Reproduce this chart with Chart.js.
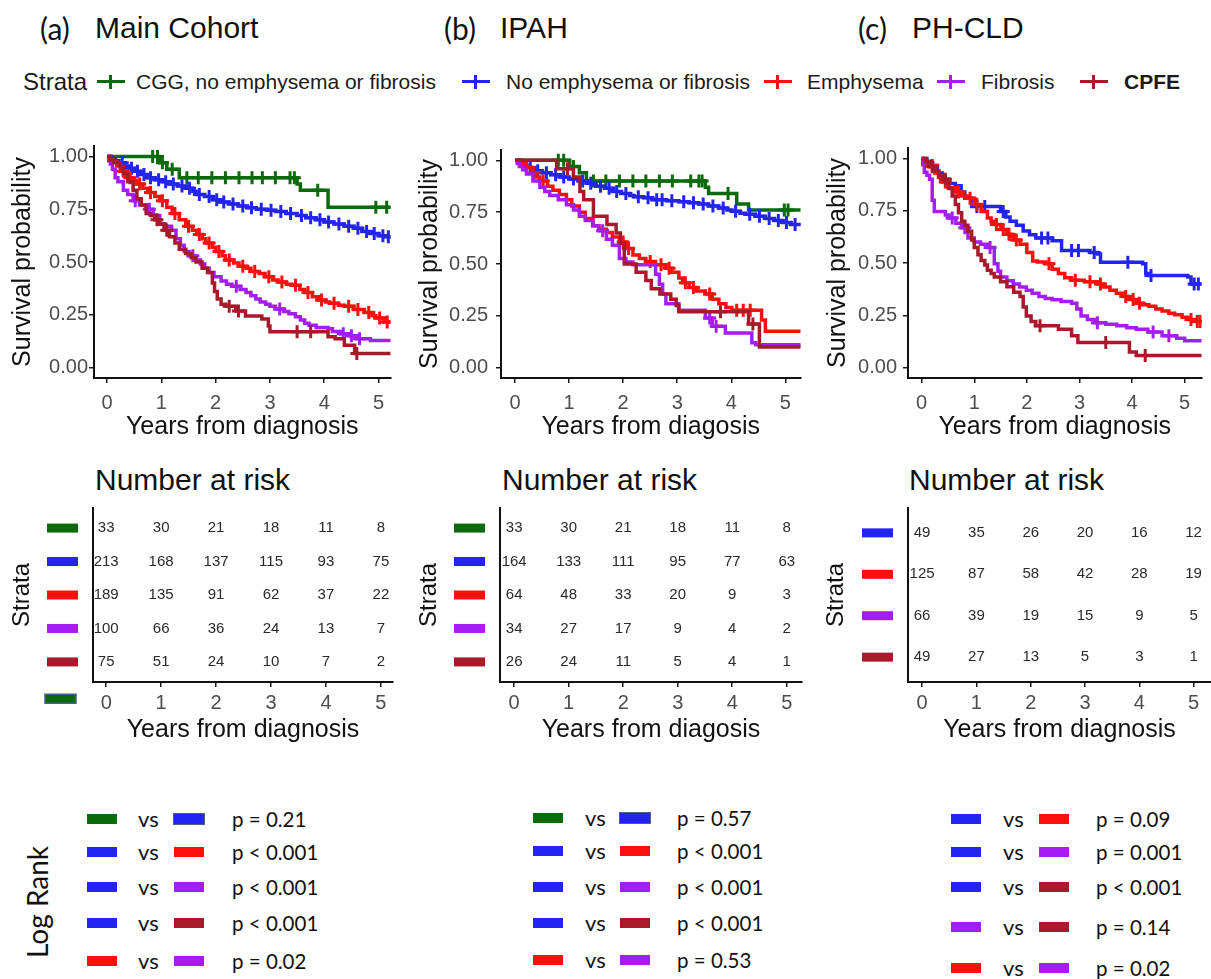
<!DOCTYPE html>
<html>
<head>
<meta charset="utf-8">
<title>Survival by CT strata</title>
<script src="https://cdn.jsdelivr.net/npm/chart.js@4.4.1/dist/chart.umd.min.js"></script>
<style>
  body { margin: 0; background: #fff; }
  #fig { position: relative; width: 1211px; height: 979px; overflow: hidden; background: #fff;
         font-family: 'Liberation Sans', Arial, sans-serif; color: #111; }
  .abs { position: absolute; white-space: nowrap; }
  .tag { font-family: Lato, 'Open Sans', sans-serif; font-size: 30px; line-height: 36px; top: 10px; }
  .name { font-size: 30px; line-height: 36px; top: 10px; }
  .risk-title { font-size: 30px; line-height: 36px; top: 462px; }
  .leg { font-size: 21px; line-height: 28px; top: 68px; color: #1a1a1a; }
  .key { position: absolute; top: 68px; width: 28px; height: 28px; }
  .key::before { content: ''; position: absolute; left: 0; right: 0; top: 12px; height: 3px; background: var(--c); }
  .key::after { content: ''; position: absolute; left: 12px; width: 3px; top: 7px; height: 14px; background: var(--c); }
  .lr { font-family: Lato, 'Open Sans', sans-serif; font-size: 22px; color: #111; }
  .lr-row { position: absolute; width: 400px; height: 28px; line-height: 28px; white-space: nowrap; }
  .lr-row span { white-space: nowrap; }
  .lr-row .pv { font-size: 20.5px; }
  .sw { position: absolute; top: 9px; width: 30px; height: 10px; }
  .rot { position: absolute; transform: translate(-50%, -50%) rotate(-90deg); white-space: nowrap; }
</style>
</head>
<body>
<div id="fig">
  <div class="abs tag" style="left:40px">(a)</div>
  <div class="abs name" style="left:95px">Main Cohort</div>
  <div class="abs tag" style="left:444px">(b)</div>
  <div class="abs name" style="left:500px">IPAH</div>
  <div class="abs tag" style="left:858px">(c)</div>
  <div class="abs name" style="left:912px">PH-CLD</div>

  <div class="abs leg" style="left:23px;font-size:24px">Strata</div>
  <div class="key" style="left:97px;--c:#0b6a0b"></div>
  <div class="abs leg" style="left:136px">CGG, no emphysema or fibrosis</div>
  <div class="key" style="left:462px;--c:#2424f2"></div>
  <div class="abs leg" style="left:506px">No emphysema or fibrosis</div>
  <div class="key" style="left:764px;--c:#fa0f0f"></div>
  <div class="abs leg" style="left:807px">Emphysema</div>
  <div class="key" style="left:937px;--c:#a41ef0"></div>
  <div class="abs leg" style="left:981px">Fibrosis</div>
  <div class="key" style="left:1080px;--c:#a61a2b"></div>
  <div class="abs leg" style="left:1124px;font-weight:bold">CPFE</div>

  <div class="abs" style="left:0;top:130px"><canvas id="kmMain" width="400" height="320"></canvas></div>
  <div class="abs" style="left:400px;top:130px"><canvas id="kmIpah" width="410" height="320"></canvas></div>
  <div class="abs" style="left:810px;top:130px"><canvas id="kmCld" width="401" height="320"></canvas></div>

  <div class="abs risk-title" style="left:95px">Number at risk</div>
  <div class="abs risk-title" style="left:502px">Number at risk</div>
  <div class="abs risk-title" style="left:909px">Number at risk</div>

  <div class="abs" style="left:0;top:500px"><canvas id="riskMain" width="400" height="270"></canvas></div>
  <div class="abs" style="left:400px;top:500px"><canvas id="riskIpah" width="410" height="270"></canvas></div>
  <div class="abs" style="left:810px;top:500px"><canvas id="riskCld" width="401" height="270"></canvas></div>

  <div class="rot lr" style="left:37px;top:902px;font-size:28px">Log Rank</div>
  <div id="lrMain"></div>
  <div id="lrIpah"></div>
  <div id="lrCld"></div>
</div>

<script>
const colors = {
  cgg: '#0b6a0b',
  none: '#2424f2',
  emph: '#fa0f0f',
  fib: '#a41ef0',
  cpfe: '#a61a2b'
};

const yearTicks = [0, 1, 2, 3, 4, 5];
const survivalTicks = [0, 0.25, 0.5, 0.75, 1];

// Kaplan-Meier curves: [years, survival, 1 = censored]
const mainCgg = [[0,1],[0.84,1,1],[0.93,1,1],[0.97,0.97],[1.02,0.97,1],[1.1,0.94],[1.2,0.94,1],[1.33,0.9],
  [1.47,0.9,1],[1.68,0.9,1],[1.93,0.9,1],[2.18,0.9,1],[2.43,0.9,1],[2.67,0.9,1],[2.86,0.9,1],[3.1,0.9,1],
  [3.37,0.9,1],[3.45,0.9,1],[3.5,0.87],[3.56,0.84],[3.88,0.84,1],[4.07,0.76],[4.95,0.76,1],[5.15,0.76,1],[5.3,0.76]];
const mainNone = [[0,1],[0.08,0.99],[0.15,0.98],[0.22,0.97],[0.28,0.97,1],[0.33,0.955],[0.4,0.945],[0.45,0.945,1],
  [0.5,0.93],[0.56,0.93,1],[0.62,0.915],[0.68,0.915,1],[0.73,0.9],[0.8,0.9,1],[0.88,0.89],[0.95,0.89,1],
  [1.02,0.88],[1.08,0.88,1],[1.15,0.87],[1.22,0.87,1],[1.3,0.86],[1.38,0.86,1],[1.45,0.85],[1.52,0.85,1],
  [1.58,0.835],[1.64,0.82],[1.7,0.82,1],[1.8,0.81],[1.88,0.81,1],[1.95,0.795],[2.02,0.795,1],[2.08,0.785],
  [2.15,0.785,1],[2.25,0.775],[2.32,0.775,1],[2.42,0.765],[2.5,0.765,1],[2.58,0.757],[2.66,0.757,1],[2.75,0.75],
  [2.84,0.75,1],[2.95,0.745],[3.02,0.745,1],[3.1,0.74],[3.2,0.74,1],[3.3,0.73],[3.38,0.73,1],[3.5,0.72],
  [3.58,0.72,1],[3.66,0.71],[3.75,0.71,1],[3.85,0.7],[3.92,0.7,1],[4.0,0.69],[4.08,0.69,1],[4.18,0.68],
  [4.27,0.68,1],[4.37,0.67],[4.45,0.67,1],[4.55,0.66],[4.62,0.66,1],[4.7,0.645],[4.78,0.645,1],[4.85,0.635],
  [4.92,0.635,1],[5.0,0.625],[5.08,0.625,1],[5.12,0.62],[5.18,0.62,1],[5.3,0.62]];
const mainEmph = [[0,1],[0.05,0.985],[0.1,0.975],[0.18,0.955],[0.25,0.93],[0.3,0.93,1],[0.36,0.91],[0.42,0.9,1],
  [0.48,0.887],[0.55,0.87],[0.6,0.87,1],[0.66,0.85],[0.75,0.83],[0.8,0.83,1],[0.88,0.81],[0.97,0.79],
  [1.02,0.79,1],[1.1,0.76],[1.2,0.73],[1.25,0.73,1],[1.33,0.7],[1.45,0.67],[1.5,0.67,1],[1.57,0.65],[1.65,0.63],
  [1.7,0.63,1],[1.76,0.61],[1.82,0.59],[1.88,0.59,1],[1.94,0.57],[2.0,0.55],[2.06,0.55,1],[2.12,0.53],
  [2.18,0.51],[2.25,0.51,1],[2.33,0.495],[2.43,0.48],[2.5,0.48,1],[2.56,0.47],[2.65,0.455],[2.72,0.455,1],
  [2.8,0.445],[2.91,0.43],[2.98,0.43,1],[3.05,0.415],[3.15,0.405],[3.22,0.405,1],[3.3,0.395],[3.4,0.39],
  [3.47,0.39,1],[3.55,0.37],[3.64,0.355],[3.7,0.355,1],[3.78,0.335],[3.89,0.32],[3.95,0.32,1],[4.02,0.31],
  [4.1,0.305],[4.18,0.305,1],[4.26,0.295],[4.37,0.29],[4.45,0.29,1],[4.55,0.275],[4.62,0.275,1],[4.74,0.26],
  [4.82,0.26,1],[4.88,0.245],[4.95,0.235],[5.02,0.235,1],[5.1,0.215],[5.16,0.215,1],[5.3,0.21]];
const mainFib = [[0,1],[0.03,0.98],[0.06,0.965],[0.1,0.94],[0.15,0.9],[0.2,0.88],[0.3,0.84],[0.38,0.82],
  [0.48,0.79],[0.52,0.79,1],[0.6,0.77],[0.72,0.75],[0.78,0.75,1],[0.85,0.72],[0.97,0.68],[1.08,0.67],
  [1.19,0.65],[1.27,0.61],[1.35,0.58],[1.42,0.55],[1.51,0.53],[1.58,0.53,1],[1.62,0.51],[1.72,0.49],[1.8,0.47],
  [1.88,0.45],[1.97,0.43],[2.1,0.41],[2.2,0.395],[2.3,0.385],[2.38,0.385,1],[2.45,0.37],[2.56,0.355],
  [2.65,0.34],[2.74,0.324],[2.82,0.31],[2.92,0.3],[3.0,0.29],[3.1,0.277],[3.18,0.277,1],[3.25,0.265],
  [3.35,0.255],[3.47,0.24],[3.56,0.225],[3.64,0.21],[3.72,0.2],[3.85,0.19],[4.07,0.183],[4.15,0.17],[4.3,0.16],
  [4.35,0.16,1],[4.45,0.15],[4.5,0.15,1],[4.6,0.136],[4.65,0.136,1],[4.85,0.128],[5.3,0.128]];
const mainCpfe = [[0,1],[0.05,0.985],[0.12,0.97],[0.24,0.95],[0.3,0.92],[0.38,0.88],[0.48,0.84],[0.55,0.8],
  [0.63,0.77],[0.72,0.73],[0.8,0.72],[0.88,0.7],[0.92,0.7,1],[0.97,0.68],[1.05,0.65],[1.1,0.65,1],[1.15,0.62],
  [1.25,0.59],[1.33,0.56],[1.45,0.54],[1.55,0.52],[1.64,0.5],[1.75,0.47],[1.85,0.45],[1.94,0.4],[1.98,0.36],
  [2.03,0.324],[2.1,0.3],[2.19,0.29],[2.25,0.29,1],[2.37,0.268],[2.42,0.268,1],[2.55,0.244],[2.85,0.23],
  [2.97,0.197],[3.0,0.169],[3.5,0.169,1],[3.75,0.169,1],[4.07,0.146],[4.2,0.136],[4.37,0.105],[4.56,0.066],
  [4.6,0.066,1],[5.3,0.066]];

const ipahCgg = [[0,1],[0.8,1,1],[0.9,1,1],[1.01,0.97],[1.08,0.97,1],[1.19,0.94],[1.32,0.9],[1.45,0.9,1],
  [1.68,0.9,1],[1.93,0.9,1],[2.18,0.9,1],[2.42,0.9,1],[2.67,0.9,1],[2.91,0.9,1],[3.25,0.9,1],[3.4,0.9,1],
  [3.46,0.9,1],[3.52,0.87],[3.58,0.84],[3.94,0.84,1],[4.1,0.79],[4.32,0.76],[4.98,0.76,1],[5.05,0.76,1],[5.3,0.76]];
const ipahNone = [[0,1],[0.08,0.985],[0.15,0.975],[0.22,0.965],[0.28,0.965,1],[0.34,0.95],[0.42,0.95,1],
  [0.5,0.94],[0.58,0.94,1],[0.66,0.93],[0.75,0.93,1],[0.83,0.92],[0.9,0.92,1],[1.0,0.91],[1.08,0.91,1],
  [1.18,0.9],[1.25,0.9,1],[1.32,0.89],[1.4,0.89,1],[1.5,0.875],[1.58,0.875,1],[1.66,0.865],[1.74,0.865,1],
  [1.81,0.85],[1.88,0.85,1],[1.96,0.84],[2.05,0.84,1],[2.12,0.83],[2.2,0.825],[2.28,0.825,1],[2.38,0.82],
  [2.46,0.82,1],[2.54,0.81],[2.62,0.81,1],[2.72,0.81,1],[2.8,0.805],[2.9,0.805,1],[3.03,0.8],[3.12,0.8,1],
  [3.22,0.795],[3.3,0.795,1],[3.4,0.79],[3.48,0.79,1],[3.58,0.78],[3.66,0.78,1],[3.77,0.77],[3.85,0.77,1],
  [3.92,0.76],[4.01,0.754],[4.08,0.754,1],[4.16,0.745],[4.26,0.74],[4.34,0.74,1],[4.45,0.73],[4.52,0.73,1],
  [4.63,0.72],[4.7,0.72,1],[4.8,0.71],[4.87,0.71,1],[4.95,0.7],[5.02,0.7,1],[5.1,0.69],[5.18,0.69,1],[5.3,0.69]];
const ipahEmph = [[0,1],[0.1,0.985],[0.21,0.966],[0.3,0.94],[0.35,0.94,1],[0.4,0.92],[0.46,0.9],[0.52,0.9,1],
  [0.6,0.875],[0.7,0.856],[0.82,0.835],[0.95,0.81],[1.05,0.78],[1.19,0.75],[1.3,0.72],[1.44,0.684],
  [1.55,0.668],[1.69,0.652],[1.8,0.63],[1.93,0.606],[2.0,0.606,1],[2.05,0.575],[2.1,0.575,1],[2.18,0.543],
  [2.3,0.527],[2.42,0.512],[2.5,0.512,1],[2.6,0.496],[2.7,0.496,1],[2.79,0.48],[2.85,0.48,1],[2.9,0.46],
  [3.03,0.433],[3.1,0.41],[3.15,0.41,1],[3.22,0.387],[3.3,0.387,1],[3.35,0.37],[3.52,0.355],[3.6,0.355,1],
  [3.65,0.33],[3.77,0.308],[3.9,0.29],[4.01,0.277],[4.1,0.277,1],[4.22,0.277,1],[4.35,0.277,1],[4.56,0.23],
  [4.63,0.175],[5.3,0.175]];
const ipahFib = [[0,1],[0.04,0.985],[0.08,0.97],[0.14,0.955],[0.21,0.934],[0.33,0.9],[0.46,0.87],[0.55,0.85],
  [0.64,0.83],[0.8,0.81],[0.95,0.786],[1.08,0.76],[1.19,0.73],[1.3,0.71],[1.44,0.684],[1.55,0.66],
  [1.62,0.66,1],[1.69,0.62],[1.8,0.59],[1.93,0.527],[2.05,0.51],[2.18,0.496],[2.55,0.496],[2.6,0.45],
  [2.67,0.402],[2.73,0.355],[2.79,0.308],[3.03,0.277],[3.4,0.277],[3.52,0.24],[3.6,0.24,1],[3.65,0.2],
  [3.72,0.2,1],[3.89,0.167],[4.38,0.12],[4.45,0.11],[5.3,0.11]];
const ipahCpfe = [[0,1],[0.77,0.96],[0.97,0.96,1],[1.08,0.92],[1.2,0.85],[1.27,0.81],[1.45,0.73],[1.7,0.69],
  [1.87,0.65],[1.95,0.6],[2.02,0.5],[2.24,0.46],[2.42,0.42],[2.52,0.38],[2.68,0.355],[2.88,0.33],[2.98,0.3],
  [3.03,0.27],[3.8,0.27,1],[4.32,0.21],[4.4,0.21,1],[4.52,0.1],[5.3,0.1]];

const cldNone = [[0,1],[0.1,0.98],[0.21,0.966],[0.3,0.93],[0.39,0.9],[0.5,0.88],[0.64,0.87],[0.75,0.84],
  [0.82,0.81],[0.95,0.77],[1.05,0.77,1],[1.2,0.77,1],[1.5,0.746],[1.55,0.746,1],[1.6,0.72],[1.68,0.7],
  [1.8,0.68],[1.93,0.653],[2.05,0.635],[2.17,0.62],[2.28,0.62,1],[2.4,0.62,1],[2.48,0.606],[2.66,0.56],
  [2.85,0.56,1],[2.98,0.56,1],[3.2,0.55],[3.28,0.55,1],[3.34,0.543],[3.4,0.504],[3.92,0.504,1],[4.2,0.496],
  [4.26,0.45],[4.32,0.44],[4.36,0.44,1],[5.06,0.433],[5.12,0.4],[5.18,0.4,1],[5.26,0.4,1],[5.4,0.4]];
const cldEmph = [[0,1],[0.05,0.985],[0.15,0.966],[0.2,0.966,1],[0.25,0.93],[0.32,0.91],[0.39,0.887],
  [0.45,0.887,1],[0.5,0.86],[0.64,0.84],[0.7,0.84,1],[0.75,0.82],[0.88,0.81],[0.92,0.81,1],[1.0,0.78],
  [1.05,0.78,1],[1.13,0.746],[1.25,0.715],[1.32,0.7],[1.38,0.684],[1.42,0.684,1],[1.5,0.66],[1.55,0.66,1],
  [1.62,0.637],[1.66,0.637,1],[1.7,0.625],[1.75,0.61],[1.8,0.61,1],[1.87,0.59],[2.0,0.55],[2.11,0.51],
  [2.2,0.505],[2.36,0.496],[2.42,0.496,1],[2.48,0.47],[2.6,0.45],[2.72,0.43],[2.85,0.418],[2.92,0.418,1],
  [3.09,0.41],[3.2,0.41,1],[3.34,0.4],[3.4,0.4,1],[3.46,0.385],[3.58,0.37],[3.7,0.355],[3.83,0.34],
  [3.88,0.34,1],[3.95,0.325],[4.02,0.325,1],[4.08,0.308],[4.14,0.308,1],[4.2,0.3],[4.32,0.293],[4.45,0.28],
  [4.57,0.27],[4.7,0.26],[4.81,0.253],[4.95,0.24],[5.06,0.23],[5.12,0.23,1],[5.2,0.22],[5.24,0.22,1],
  [5.3,0.22,1],[5.4,0.22]];
const cldFib = [[0,1],[0.02,0.97],[0.05,0.934],[0.1,0.92],[0.15,0.9],[0.2,0.8],[0.24,0.746],[0.39,0.746],
  [0.45,0.73],[0.52,0.715],[0.58,0.715,1],[0.65,0.69],[0.76,0.668],[0.82,0.668,1],[0.88,0.62],[1.0,0.6],
  [1.12,0.59],[1.25,0.574],[1.3,0.574,1],[1.38,0.496],[1.45,0.46],[1.5,0.433],[1.62,0.415],[1.74,0.4],
  [1.86,0.385],[1.99,0.37],[2.1,0.355],[2.23,0.34],[2.35,0.33],[2.48,0.324],[2.65,0.316],[2.85,0.308],
  [2.95,0.28],[3.03,0.246],[3.15,0.23],[3.28,0.214],[3.34,0.214,1],[3.5,0.207],[3.71,0.2],[3.9,0.19],
  [4.08,0.183],[4.3,0.17],[4.4,0.17,1],[4.57,0.152],[4.7,0.152,1],[4.85,0.14],[5.0,0.128],[5.4,0.128]];
const cldCpfe = [[0,1],[0.08,0.985],[0.15,0.96],[0.2,0.96,1],[0.25,0.94],[0.33,0.918],[0.4,0.9],[0.45,0.9,1],
  [0.52,0.856],[0.58,0.82],[0.64,0.78],[0.7,0.74],[0.76,0.7],[0.82,0.68],[0.88,0.652],[0.95,0.61],[1.0,0.574],
  [1.07,0.54],[1.13,0.512],[1.2,0.49],[1.25,0.465],[1.32,0.45],[1.38,0.433],[1.5,0.41],[1.62,0.387],
  [1.75,0.36],[1.87,0.34],[1.93,0.29],[1.99,0.246],[2.08,0.22],[2.17,0.2],[2.25,0.2,1],[2.6,0.183],
  [2.85,0.152],[2.97,0.12],[3.5,0.12,1],[3.95,0.074],[4.08,0.058],[4.25,0.058,1],[5.4,0.058]];

// Number at risk at years 0..5, one row per stratum (top to bottom)
const riskMain = [
  [33, 30, 21, 18, 11, 8],
  [213, 168, 137, 115, 93, 75],
  [189, 135, 91, 62, 37, 22],
  [100, 66, 36, 24, 13, 7],
  [75, 51, 24, 10, 7, 2]
];
const riskIpah = [
  [33, 30, 21, 18, 11, 8],
  [164, 133, 111, 95, 77, 63],
  [64, 48, 33, 20, 9, 3],
  [34, 27, 17, 9, 4, 2],
  [26, 24, 11, 5, 4, 1]
];
const riskCld = [
  [49, 35, 26, 20, 16, 12],
  [125, 87, 58, 42, 28, 19],
  [66, 39, 19, 15, 9, 5],
  [49, 27, 13, 5, 3, 1]
];

// pairwise log-rank tests
const logRankMain = [['cgg', 'none', 'p = 0.21'], ['none', 'emph', 'p < 0.001'], ['none', 'fib', 'p < 0.001'],
  ['none', 'cpfe', 'p < 0.001'], ['emph', 'fib', 'p = 0.02']];
const logRankIpah = [['cgg', 'none', 'p = 0.57'], ['none', 'emph', 'p < 0.001'], ['none', 'fib', 'p < 0.001'],
  ['none', 'cpfe', 'p < 0.001'], ['emph', 'fib', 'p = 0.53']];
const logRankCld = [['none', 'emph', 'p = 0.09'], ['none', 'fib', 'p = 0.001'], ['none', 'cpfe', 'p < 0.001'],
  ['fib', 'cpfe', 'p = 0.14'], ['emph', 'fib', 'p = 0.02']];

Chart.defaults.font.family = "'Liberation Sans', Arial, sans-serif";

function yearAxis(min, max, title, height, tickPad, titlePad) {
  return {
    type: 'linear', min, max,
    afterBuildTicks: s => { s.ticks = yearTicks.map(v => ({ value: v })); },
    afterFit: s => { s.height = height; },
    grid: { drawOnChartArea: false, drawTicks: true, tickLength: 5, color: '#1a1a1a', lineWidth: 1.5 },
    border: { color: '#111', width: 2 },
    ticks: { color: '#4d4d4d', font: { size: 20 }, padding: tickPad, maxRotation: 0, autoSkip: false },
    title: { display: true, text: title, color: '#111', font: { size: 25 }, padding: { top: 0, bottom: titlePad } }
  };
}

function drawSurvival(id, strata, ax) {
  const datasets = [];
  strata.forEach((s, i) => {
    const rank = strata.length - i;
    datasets.push({
      data: s.points.map(p => ({ x: p[0], y: p[1] })),
      showLine: true, stepped: true, borderColor: s.color, borderWidth: 3.5,
      pointRadius: 0, order: rank * 2
    });
    datasets.push({
      data: s.points.filter(p => p[2]).map(p => ({ x: p[0], y: p[1] })),
      showLine: false, pointStyle: 'cross', pointRadius: 6.5, pointBorderWidth: 3,
      pointBorderColor: s.color, borderColor: s.color, order: rank * 2 - 1
    });
  });
  new Chart(document.getElementById(id), {
    type: 'scatter',
    data: { datasets },
    options: {
      responsive: false, animation: false, events: [],
      layout: { padding: { top: 16, right: ax.padRight, left: 0, bottom: 0 } },
      plugins: { legend: { display: false }, tooltip: { enabled: false } },
      scales: {
        x: yearAxis(ax.xMin, ax.xMax, ax.xTitle, 72, 8, 8),
        y: {
          min: -0.05, max: 1.05,
          afterBuildTicks: s => { s.ticks = survivalTicks.map(v => ({ value: v })); },
          afterFit: s => { s.width = ax.yWidth; },
          grid: { drawOnChartArea: false, drawTicks: true, tickLength: 5, color: '#1a1a1a', lineWidth: 1.5 },
          border: { color: '#111', width: 2 },
          ticks: { color: '#4d4d4d', font: { size: 20 }, padding: ax.yTickPad, callback: v => v.toFixed(2) },
          title: { display: true, text: 'Survival probability', color: '#111', font: { size: 25 },
                   padding: { top: ax.yTitlePad, bottom: 0 } }
        }
      }
    }
  });
}

// writes the counts at each (year, stratum) point and the colour keys left of the axis
const riskTable = {
  id: 'riskTable',
  afterDatasetsDraw(chart, args, opts) {
    const { ctx, chartArea, scales } = chart;
    ctx.save();
    ctx.font = "15px 'Liberation Sans', Arial, sans-serif";
    ctx.textAlign = 'center';
    ctx.textBaseline = 'middle';
    chart.data.datasets.forEach((ds, i) => {
      const pts = chart.getDatasetMeta(i).data;
      ctx.fillStyle = '#2a2a2a';
      pts.forEach((pt, j) => ctx.fillText(String(ds.counts[j]), pt.x, pt.y));
      ctx.fillStyle = ds.backgroundColor;
      ctx.fillRect(chartArea.left - 46, pts[0].y - 4.5, 31, 9);
    });
    (opts.extra || []).forEach(k => {
      const y = scales.y.getPixelForValue(k.row);
      ctx.fillStyle = k.fill;
      ctx.fillRect(chartArea.left - 48, y - 4.5, 31, 9);
      ctx.strokeStyle = k.edge;
      ctx.lineWidth = 1.5;
      ctx.strokeRect(chartArea.left - 48, y - 4.5, 31, 9);
    });
    ctx.restore();
  }
};

function drawRisk(id, rows, keys, ax, extra) {
  const n = rows.length;
  const datasets = rows.map((counts, i) => ({
    data: yearTicks.map(t => ({ x: t, y: n - i })),
    counts, backgroundColor: colors[keys[i]], pointRadius: 0, showLine: false
  }));
  new Chart(document.getElementById(id), {
    type: 'scatter',
    data: { datasets },
    plugins: [riskTable],
    options: {
      responsive: false, animation: false, events: [],
      layout: { padding: { top: 8, right: ax.padRight, left: 0, bottom: 0 } },
      plugins: { legend: { display: false }, tooltip: { enabled: false }, riskTable: { extra: extra || [] } },
      scales: {
        x: yearAxis(ax.xMin, ax.xMax, ax.xTitle, 88, 4, 25),
        y: {
          min: 0.4, max: n + 0.6,
          afterFit: s => { s.width = ax.yWidth; },
          grid: { display: false },
          border: { color: '#111', width: 2 },
          ticks: { display: false },
          title: { display: true, text: 'Strata', color: '#111', font: { size: 24 },
                   padding: { top: ax.strataPad, bottom: 0 } }
        }
      }
    }
  });
}

function drawLogRank(id, rows, ax) {
  const box = document.getElementById(id);
  rows.forEach((r, i) => {
    const row = document.createElement('div');
    row.className = 'lr-row lr';
    row.style.left = '0px';
    row.style.top = (ax.rowY[i] - 14) + 'px';
    const edge = ax.outlined && i === 0 ? 'box-shadow:0 0 0 1px #4a5f8c;' : '';
    row.innerHTML =
      `<div class="sw" style="left:${ax.sw1}px;background:${colors[r[0]]}"></div>` +
      `<span style="position:absolute;left:${ax.vs}px">vs</span>` +
      `<div class="sw" style="left:${ax.sw2}px;background:${colors[r[1]]};${edge}"></div>` +
      `<span class="pv" style="position:absolute;left:${ax.p}px">${r[2]}</span>`;
    box.appendChild(row);
  });
}

const mainStrata = [
  { color: colors.cgg, points: mainCgg }, { color: colors.none, points: mainNone },
  { color: colors.emph, points: mainEmph }, { color: colors.fib, points: mainFib },
  { color: colors.cpfe, points: mainCpfe }
];
const ipahStrata = [
  { color: colors.cgg, points: ipahCgg }, { color: colors.none, points: ipahNone },
  { color: colors.emph, points: ipahEmph }, { color: colors.fib, points: ipahFib },
  { color: colors.cpfe, points: ipahCpfe }
];
const cldStrata = [
  { color: colors.none, points: cldNone }, { color: colors.emph, points: cldEmph },
  { color: colors.fib, points: cldFib }, { color: colors.cpfe, points: cldCpfe }
];

const axMain = { xMin: -0.24, xMax: 5.22, xTitle: 'Years from diagnosis', yWidth: 94, padRight: 7,
                 yTickPad: 1, yTitlePad: 8, strataPad: 8 };
const axIpah = { xMin: -0.26, xMax: 5.28, xTitle: 'Years from diagosis', yWidth: 101, padRight: 8,
                 yTickPad: 8, yTitlePad: 15, strataPad: 15 };
const axCld = { xMin: -0.26, xMax: 5.32, xTitle: 'Years from diagnosis', yWidth: 98, padRight: 0,
                yTickPad: 6, yTitlePad: 13, strataPad: 12 };

drawSurvival('kmMain', mainStrata, axMain);
drawSurvival('kmIpah', ipahStrata, axIpah);
drawSurvival('kmCld', cldStrata, axCld);

drawRisk('riskMain', riskMain, ['cgg', 'none', 'emph', 'fib', 'cpfe'], { ...axMain, yWidth: 93 },
         [{ row: -0.1, fill: colors.cgg, edge: '#4a5f8c' }]);
drawRisk('riskIpah', riskIpah, ['cgg', 'none', 'emph', 'fib', 'cpfe'], { ...axIpah, yWidth: 100 });
drawRisk('riskCld', riskCld, ['none', 'emph', 'fib', 'cpfe'], axCld);

drawLogRank('lrMain', logRankMain, { sw1: 87, vs: 138, sw2: 174, p: 232, outlined: true,
                                     rowY: [819, 852, 887, 923, 961] });
drawLogRank('lrIpah', logRankIpah, { sw1: 533, vs: 585, sw2: 620, p: 677, outlined: true,
                                     rowY: [818, 851, 887, 923, 960] });
drawLogRank('lrCld', logRankCld, { sw1: 951, vs: 1003, sw2: 1039, p: 1096, outlined: false,
                                   rowY: [819, 852, 887, 927, 968] });
</script>
</body>
</html>
